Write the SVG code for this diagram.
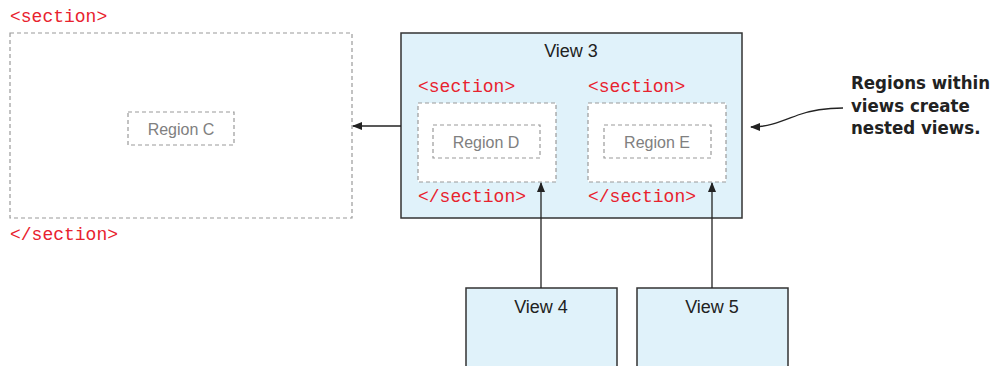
<svg xmlns="http://www.w3.org/2000/svg" width="999" height="366" viewBox="0 0 999 366">
<defs>
<style>
.dash{fill:#fff;stroke:#9a9a9a;stroke-width:1.2;stroke-dasharray:4 3}
.view{fill:#e0f2fa;stroke:#333;stroke-width:1.5}
.code{font-family:"Liberation Mono","Courier New",monospace;font-size:18px;fill:#e8222e}
.reg{font-family:"Liberation Sans",Arial,sans-serif;font-size:16px;fill:#808080;text-anchor:middle}
.vt{font-family:"Liberation Sans",Arial,sans-serif;font-size:18px;fill:#222;text-anchor:middle}
.note{font-family:"DejaVu Sans Condensed","DejaVu Sans",sans-serif;font-weight:bold;font-size:18.5px;fill:#222}
.conn{stroke:#222;stroke-width:1.3;fill:none}
</style>
<marker id="ah" viewBox="0 0 10 10" refX="9" refY="5" markerWidth="10" markerHeight="10" markerUnits="userSpaceOnUse" orient="auto">
<path d="M0,1 L10,5 L0,9 Z" fill="#222"/>
</marker>
</defs>
<g id="sectionC">
<text class="code" x="10" y="22">&lt;section&gt;</text>
<rect class="dash" x="10" y="33" width="342" height="185"/>
<text class="code" x="10" y="240">&lt;/section&gt;</text>
</g>
<g id="regionC">
<rect class="dash" x="128" y="112" width="106" height="33"/>
<text class="reg" x="181" y="135">Region C</text>
</g>
<g id="view3">
<rect class="view" x="401" y="33" width="341" height="185"/>
<text class="vt" x="571" y="57">View 3</text>
</g>
<g id="sectionD">
<text class="code" x="418" y="92">&lt;section&gt;</text>
<rect class="dash" x="418" y="103" width="138" height="79"/>
<text class="code" x="418" y="202">&lt;/section&gt;</text>
</g>
<g id="regionD">
<rect class="dash" x="433" y="125" width="107" height="33"/>
<text class="reg" x="486" y="148">Region D</text>
</g>
<g id="sectionE">
<text class="code" x="588" y="92">&lt;section&gt;</text>
<rect class="dash" x="588" y="103" width="138" height="79"/>
<text class="code" x="588" y="202">&lt;/section&gt;</text>
</g>
<g id="regionE">
<rect class="dash" x="604" y="125" width="107" height="33"/>
<text class="reg" x="657" y="148">Region E</text>
</g>
<g id="view4">
<rect class="view" x="466" y="288" width="151" height="90"/>
<text class="vt" x="541" y="313">View 4</text>
</g>
<g id="view5">
<rect class="view" x="637" y="288" width="151" height="90"/>
<text class="vt" x="712" y="313">View 5</text>
</g>
<g id="note">
<text class="note" x="851" y="89">Regions within</text>
<text class="note" x="851" y="112">views create</text>
<text class="note" x="851" y="134">nested views.</text>
</g>
<g id="connectors">
<line class="conn" x1="401" y1="126" x2="353" y2="126" marker-end="url(#ah)"/>
<line class="conn" x1="541" y1="288" x2="541" y2="183" marker-end="url(#ah)"/>
<line class="conn" x1="712" y1="288" x2="712" y2="183" marker-end="url(#ah)"/>
<path class="conn" d="M843,108 C825,108 812,110 798,115 C782,121 770,127 751,127" marker-end="url(#ah)"/>
</g>
</svg>
